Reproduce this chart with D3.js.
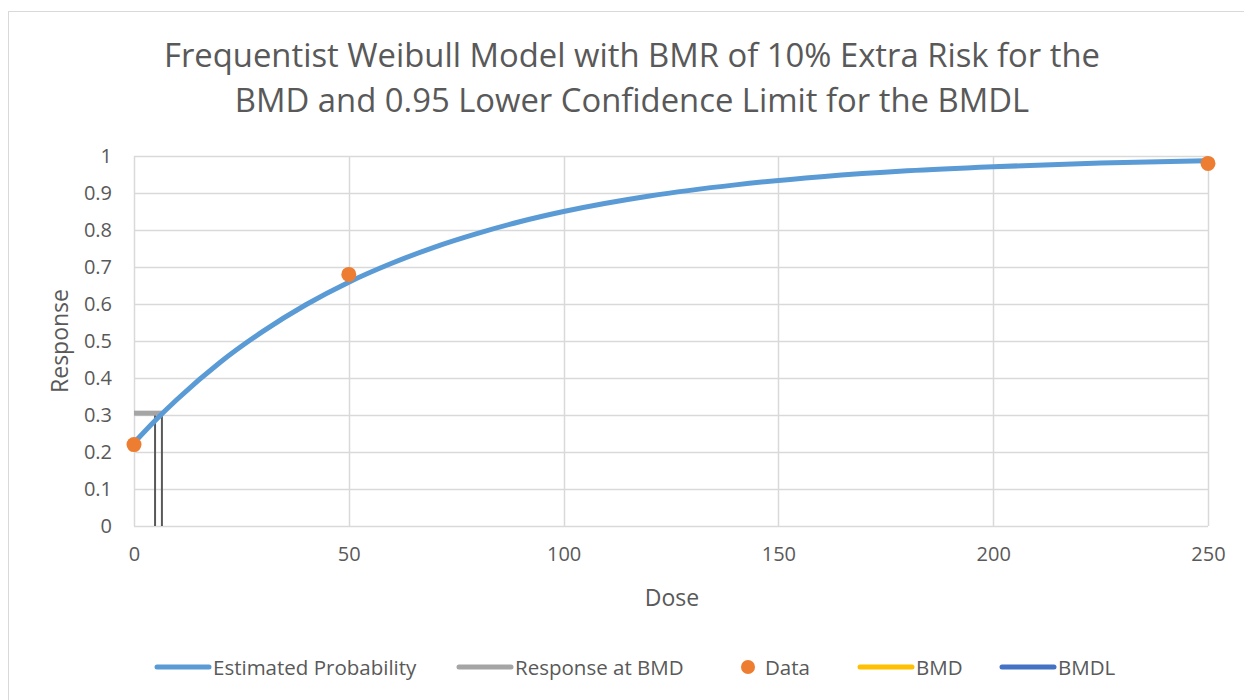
<!DOCTYPE html>
<html>
<head>
<meta charset="utf-8">
<script src="https://d3js.org/d3.v7.min.js"></script>
<style>
  html, body { margin: 0; padding: 0; background: #fff; }
  svg { display: block; }
  text { font-family: "Open Sans", "Noto Sans", sans-serif; fill: #595959; }
</style>
</head>
<body>
<svg id="chart" width="1244" height="700"></svg>
<script>
// Fitted Weibull curve (dose, estimated probability)
const curveDose = [0, 5, 10, 20, 30, 40, 50, 60, 70, 80, 90, 100, 120, 140, 160, 180, 200, 225, 250];
const curveResp = [0.225, 0.286, 0.342, 0.442, 0.526, 0.598, 0.659, 0.710, 0.754, 0.791, 0.823, 0.850, 0.892, 0.922, 0.944, 0.960, 0.971, 0.981, 0.987];

// Observed data
const dataDose = [0, 50, 250];
const dataResp = [0.22, 0.68, 0.98];

// Benchmark dose results
const bmd = 6.5;
const bmdl = 4.9;
const responseAtBmd = 0.305;

const xTicks = [0, 50, 100, 150, 200, 250];
const yTicks = [0, 0.1, 0.2, 0.3, 0.4, 0.5, 0.6, 0.7, 0.8, 0.9, 1];

const titleLines = [
  "Frequentist Weibull Model with BMR of 10% Extra Risk for the",
  "BMD and 0.95 Lower Confidence Limit for the BMDL"
];

const legendItems = [
  { label: "Estimated Probability", color: "#5b9bd5", kind: "line" },
  { label: "Response at BMD", color: "#a5a5a5", kind: "line" },
  { label: "Data", color: "#ed7d31", kind: "dot" },
  { label: "BMD", color: "#ffc000", kind: "line" },
  { label: "BMDL", color: "#4472c4", kind: "line" }
];

const svg = d3.select("#chart");

// outer chart frame
svg.append("rect")
  .attr("x", 8.5).attr("y", 11.5)
  .attr("width", 1250).attr("height", 700)
  .attr("fill", "#fff").attr("stroke", "#d9d9d9").attr("stroke-width", 1);

const plot = { left: 134, right: 1208, top: 156, bottom: 526 };

const x = d3.scaleLinear().domain([0, 250]).range([plot.left, plot.right]);
const y = d3.scaleLinear().domain([0, 1]).range([plot.bottom, plot.top]);

// gridlines
const grid = svg.append("g");
grid.selectAll("line.h").data(yTicks).join("line")
  .attr("x1", plot.left).attr("x2", plot.right)
  .attr("y1", d => Math.round(y(d)) + 0.5).attr("y2", d => Math.round(y(d)) + 0.5)
  .attr("stroke", "#d9d9d9").attr("stroke-width", 1.5);
grid.selectAll("line.v").data(xTicks).join("line")
  .attr("y1", plot.top).attr("y2", plot.bottom)
  .attr("x1", d => Math.round(x(d)) + 0.5).attr("x2", d => Math.round(x(d)) + 0.5)
  .attr("stroke", "#d9d9d9").attr("stroke-width", 1.5);

// axes (labels only; lines provided by grid)
const xAxis = svg.append("g")
  .attr("transform", `translate(0,${plot.bottom})`)
  .call(d3.axisBottom(x).tickValues(xTicks).tickSize(0).tickPadding(21).tickFormat(d3.format("d")));
xAxis.select(".domain").remove();
xAxis.selectAll("text").style("font-size", "20px").attr("fill", "#595959");

const yAxis = svg.append("g")
  .attr("transform", `translate(${plot.left},0)`)
  .call(d3.axisLeft(y).tickValues(yTicks).tickSize(0).tickPadding(22).tickFormat(d => d3.format("~g")(d)));
yAxis.select(".domain").remove();
yAxis.selectAll("text").style("font-size", "20px").attr("fill", "#595959");

// axis titles
svg.append("text")
  .attr("x", (plot.left + plot.right) / 2 + 1).attr("y", 606)
  .attr("text-anchor", "middle").style("font-size", "23px").text("Dose");
svg.append("text")
  .attr("transform", `translate(68,${(plot.top + plot.bottom) / 2}) rotate(-90)`)
  .attr("text-anchor", "middle").style("font-size", "23px").text("Response");

// chart title
svg.append("g").selectAll("text").data(titleLines).join("text")
  .attr("x", 632).attr("y", (d, i) => 67 + i * 45)
  .attr("text-anchor", "middle").style("font-size", "32.8px")
  .text(d => d);

// BMD and BMDL drop lines
svg.append("g").selectAll("line").data([bmdl, bmd]).join("line")
  .attr("x1", d => x(d)).attr("x2", d => x(d))
  .attr("y1", y(responseAtBmd)).attr("y2", plot.bottom)
  .attr("stroke", "#595959").attr("stroke-width", 2);

// response at BMD
svg.append("line")
  .attr("x1", x(0)).attr("x2", x(bmd))
  .attr("y1", y(responseAtBmd)).attr("y2", y(responseAtBmd))
  .attr("stroke", "#a5a5a5").attr("stroke-width", 5);

// estimated probability curve
const curve = curveDose.map((d, i) => [d, curveResp[i]]);
svg.append("path")
  .datum(curve)
  .attr("d", d3.line().x(d => x(d[0])).y(d => y(d[1])).curve(d3.curveMonotoneX))
  .attr("fill", "none").attr("stroke", "#5b9bd5").attr("stroke-width", 5)
  .attr("stroke-linecap", "round");

// data points
svg.append("g").selectAll("circle").data(dataDose.map((d, i) => [d, dataResp[i]])).join("circle")
  .attr("cx", d => x(d[0])).attr("cy", d => y(d[1])).attr("r", 7.5)
  .attr("fill", "#ed7d31");

// legend
const legendX = [155, 457, 740, 858, 1000];
const legend = svg.append("g").attr("transform", "translate(0,667)");
legendItems.forEach((item, i) => {
  const g = legend.append("g").attr("transform", `translate(${legendX[i]},0)`);
  if (item.kind === "line") {
    g.append("line").attr("x1", 2).attr("x2", 54).attr("y1", 0).attr("y2", 0)
      .attr("stroke", item.color).attr("stroke-width", 5).attr("stroke-linecap", "round");
    g.append("text").attr("x", 58).attr("y", 7.5).style("font-size", "20.5px").text(item.label);
  } else {
    g.append("circle").attr("cx", 8).attr("cy", 0).attr("r", 7).attr("fill", item.color);
    g.append("text").attr("x", 25).attr("y", 7.5).style("font-size", "20.5px").text(item.label);
  }
});
</script>
</body>
</html>
